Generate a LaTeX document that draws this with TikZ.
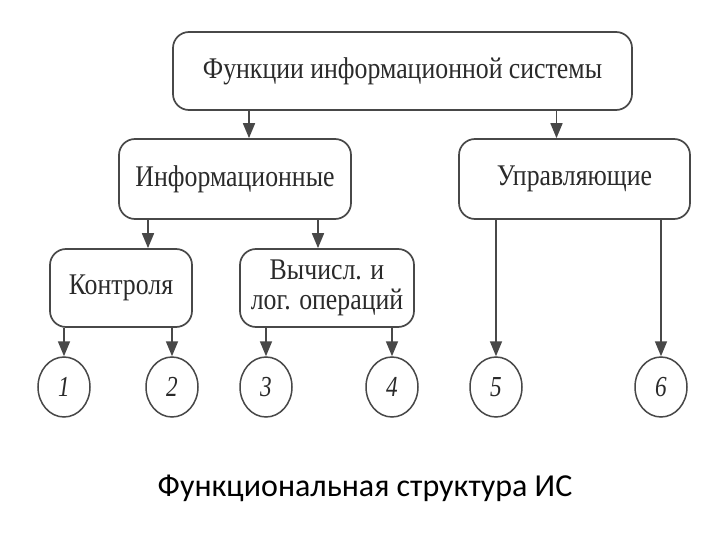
\documentclass[tikz,border=0pt]{standalone}
\usepackage{fontspec}
\usepackage{graphicx}
\setmainfont{Liberation Serif}
\newfontfamily\capfont{Carlito}
\usetikzlibrary{arrows.meta,shapes.geometric}
\definecolor{linec}{HTML}{484848}
\definecolor{textc}{HTML}{2A2A2A}
\newcommand{\sqz}[1]{\scalebox{0.86}[1]{#1}}
\newcommand{\sqn}[1]{\scalebox{0.8}[1]{#1}}
\tikzset{
  box/.style={draw=linec, line width=1.7pt, rounded corners=16pt, fill=white,
    text=textc, font=\fontsize{30}{30}\selectfont, align=center, inner sep=0pt},
  numnode/.style={draw=linec, line width=1.5pt, ellipse, minimum width=52pt,
    minimum height=60pt, inner sep=0pt, text=textc, font=\fontsize{29}{30}\selectfont\itshape},
  arr/.style={draw=linec, line width=1.7pt, -{Triangle[length=15pt,width=12pt]}},
}
\begin{document}
\begin{tikzpicture}[x=1pt,y=-1pt]
\useasboundingbox (0,0) rectangle (720,540);
\fill[white] (0,0) rectangle (720,540);
\node[box, minimum width=459pt, minimum height=78pt] (top) at (402.5,71) {\sqz{Функции информационной системы}};
\node[box, minimum width=232pt, minimum height=80pt] (inf) at (235,179) {\sqz{Информационные}};
\node[box, minimum width=231pt, minimum height=80pt] (upr) at (574.5,179) {\sqz{Управляющие}};
\node[box, minimum width=142pt, minimum height=78pt] (kon) at (121,288) {\sqz{Контроля}};
\node[box, minimum width=174pt, minimum height=78pt] (vyc) at (327,288) {\sqz{Вычисл. и}\\\sqz{лог. операций}};
\node[numnode] (e1) at (64,387) {\sqn{1}};
\node[numnode] (e2) at (172,387) {\sqn{2}};
\node[numnode] (e3) at (266,387) {\sqn{3}};
\node[numnode] (e4) at (392,387) {\sqn{4}};
\node[numnode] (e5) at (496,387) {\sqn{5}};
\node[numnode] (e6) at (661,387) {\sqn{6}};
\draw[arr] ([xshift=14pt]inf.north |- top.south) -- ([xshift=14pt]inf.north);
\draw[arr] ([xshift=-18pt]upr.north |- top.south) -- ([xshift=-18pt]upr.north);
\draw[arr] ([xshift=27pt]kon.north |- inf.south) -- ([xshift=27pt]kon.north);
\draw[arr] ([xshift=-9pt]vyc.north |- inf.south) -- ([xshift=-9pt]vyc.north);
\draw[arr] (e1.north |- kon.south) -- (e1.north);
\draw[arr] (e2.north |- kon.south) -- (e2.north);
\draw[arr] (e3.north |- vyc.south) -- (e3.north);
\draw[arr] (e4.north |- vyc.south) -- (e4.north);
\draw[arr] (e5.north |- upr.south) -- (e5.north);
\draw[arr] (e6.north |- upr.south) -- (e6.north);
\node[font=\capfont\fontsize{32}{36}\selectfont, text=black] (cap) at (365,488) {Функциональная структура ИС};
\end{tikzpicture}
\end{document}
